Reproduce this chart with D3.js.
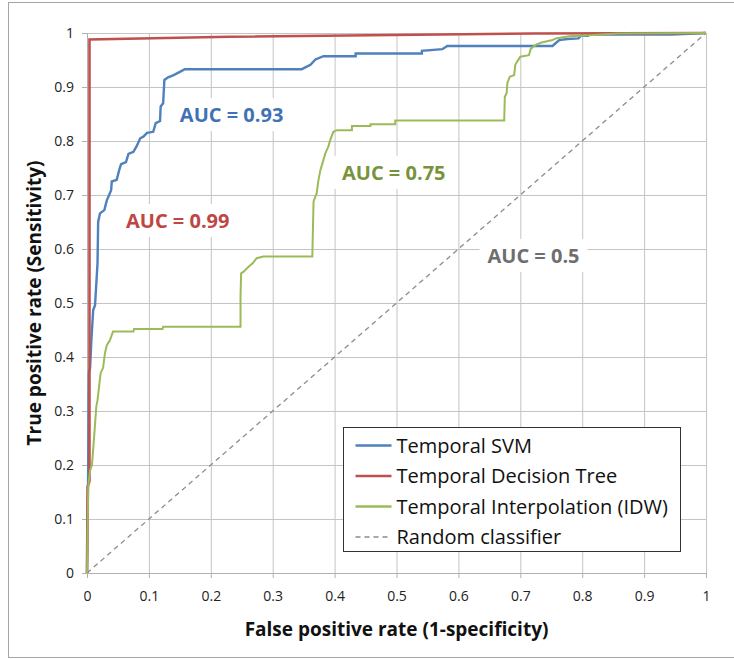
<!DOCTYPE html>
<html>
<head>
<meta charset="utf-8">
<script src="https://cdn.jsdelivr.net/npm/d3@7"></script>
<style>
  body { margin: 0; background: #fff; }
  text { font-family: "Open Sans", sans-serif; }
</style>
</head>
<body>
<div id="chart"></div>
<script>
// ROC points, [false positive rate, true positive rate]
var svmPoints = [
    [0, 0], [0.002, 0.2], [0.003, 0.37], [0.005, 0.38], [0.007, 0.43], [0.010, 0.487],
    [0.013, 0.496], [0.017, 0.574], [0.018, 0.65], [0.021, 0.666], [0.028, 0.672],
    [0.032, 0.69], [0.039, 0.709], [0.040, 0.725], [0.048, 0.728], [0.052, 0.746],
    [0.055, 0.757], [0.063, 0.761], [0.067, 0.776], [0.075, 0.78], [0.080, 0.79],
    [0.086, 0.805], [0.091, 0.808], [0.097, 0.815], [0.107, 0.817], [0.111, 0.833],
    [0.118, 0.837], [0.119, 0.864], [0.123, 0.87], [0.125, 0.913], [0.131, 0.918],
    [0.140, 0.922], [0.150, 0.928], [0.158, 0.933], [0.347, 0.933], [0.361, 0.941],
    [0.369, 0.951], [0.382, 0.957], [0.434, 0.957], [0.434, 0.962], [0.541, 0.962],
    [0.541, 0.967], [0.574, 0.970], [0.582, 0.976], [0.752, 0.976], [0.757, 0.981],
    [0.763, 0.987], [0.776, 0.989], [0.794, 0.990], [0.798, 0.995], [0.809, 0.995],
    [0.809, 0.997], [0.944, 0.997], [1, 1]
];
var treePoints = [
    [0, 0], [0.001, 0.16], [0.004, 0.17], [0.004, 0.988], [0.23, 0.993], [0.72, 0.999], [1, 1]
];
var idwPoints = [
    [0, 0], [0.002, 0.16], [0.005, 0.19], [0.008, 0.2], [0.012, 0.26], [0.015, 0.308],
    [0.017, 0.32], [0.022, 0.37], [0.026, 0.38], [0.029, 0.407], [0.032, 0.422],
    [0.037, 0.431], [0.042, 0.447], [0.075, 0.447], [0.076, 0.452], [0.122, 0.452],
    [0.123, 0.456], [0.248, 0.456], [0.248, 0.512], [0.249, 0.555], [0.253, 0.558],
    [0.261, 0.567], [0.268, 0.574], [0.274, 0.583], [0.285, 0.586], [0.364, 0.586],
    [0.366, 0.688], [0.371, 0.703], [0.374, 0.728], [0.377, 0.746], [0.382, 0.765],
    [0.385, 0.777], [0.390, 0.79], [0.393, 0.802], [0.398, 0.817], [0.404, 0.82],
    [0.428, 0.82], [0.428, 0.828], [0.458, 0.828], [0.458, 0.831], [0.498, 0.831],
    [0.498, 0.838], [0.674, 0.838], [0.675, 0.882], [0.678, 0.889], [0.679, 0.907],
    [0.683, 0.919], [0.690, 0.922], [0.692, 0.941], [0.695, 0.947], [0.700, 0.956],
    [0.714, 0.959], [0.717, 0.971], [0.725, 0.978], [0.733, 0.982], [0.752, 0.987],
    [0.757, 0.990], [0.779, 0.994], [0.798, 0.995], [0.857, 0.999], [1, 1]
];
var randomPoints = [[0, 0], [1, 1]];

var tickValues = [0, 0.1, 0.2, 0.3, 0.4, 0.5, 0.6, 0.7, 0.8, 0.9, 1];
var tickLabels = ["0", "0.1", "0.2", "0.3", "0.4", "0.5", "0.6", "0.7", "0.8", "0.9", "1"];

var seriesNames = ["Temporal SVM", "Temporal Decision Tree", "Temporal Interpolation (IDW)", "Random classifier"];
var aucLabels = ["AUC = 0.93", "AUC = 0.99", "AUC = 0.75", "AUC = 0.5"];
// where each AUC label sits, in data units (left edge, baseline)
var aucX = [0.15, 0.063, 0.412, 0.647];
var aucY = [0.835, 0.639, 0.728, 0.574];

var lineColors = ["#4f81bd", "#c0504d", "#9bbb59", "#8c8c8c"];
var labelColors = ["#3f72b4", "#be4643", "#77933c", "#6e6e6e"];

var margin = { top: 33, right: 28, bottom: 86, left: 87 };
var width = 734, height = 659;
var plotW = width - margin.left - margin.right;   // 619
var plotH = height - margin.top - margin.bottom;  // 540

var svg = d3.select("#chart").append("svg")
    .attr("width", width)
    .attr("height", height);

// outer frame (right side runs off the picture)
svg.append("rect")
    .attr("x", 8.5).attr("y", 2.5)
    .attr("width", 740).attr("height", 655)
    .attr("fill", "none")
    .attr("stroke", "#a6a6a6")
    .attr("stroke-width", 1);

var g = svg.append("g")
    .attr("transform", `translate(${margin.left}, ${margin.top})`);

var xScale = d3.scaleLinear().domain([0, 1]).range([0, plotW]);
var yScale = d3.scaleLinear().domain([0, 1]).range([plotH, 0]);

// gridlines
var xGrid = d3.axisBottom(xScale).tickValues(tickValues).tickSize(-plotH).tickFormat("");
var yGrid = d3.axisLeft(yScale).tickValues(tickValues).tickSize(-plotW).tickFormat("");
g.append("g").attr("class", "grid")
    .attr("transform", `translate(0, ${plotH})`)
    .call(xGrid);
g.append("g").attr("class", "grid").call(yGrid);
g.selectAll(".grid .domain").remove();
g.selectAll(".grid line").attr("stroke", "#c4c4c4").attr("stroke-width", 1);

// axes with short outer ticks
var xAxis = d3.axisBottom(xScale).tickValues(tickValues).tickSize(5).tickSizeOuter(0)
    .tickPadding(13).tickFormat((d, i) => tickLabels[i]);
var yAxis = d3.axisLeft(yScale).tickValues(tickValues).tickSize(5).tickSizeOuter(0)
    .tickPadding(8).tickFormat((d, i) => tickLabels[i]);

var xAxisG = g.append("g")
    .attr("transform", `translate(0, ${plotH})`)
    .call(xAxis);
var yAxisG = g.append("g").call(yAxis);

[xAxisG, yAxisG].forEach(function (ax) {
    ax.select(".domain").attr("stroke", "#b0b0b0");
    ax.selectAll(".tick line").attr("stroke", "#b0b0b0");
    ax.selectAll(".tick text")
        .attr("fill", "#222")
        .style("font-family", "'Open Sans', sans-serif")
        .style("font-size", "14px");
});

// AUC labels with white boxes behind them
aucLabels.forEach(function (label, i) {
    var lg = g.append("g");
    var box = lg.append("rect").attr("fill", "#fff");
    var t = lg.append("text")
        .attr("x", xScale(aucX[i]))
        .attr("y", yScale(aucY[i]))
        .attr("fill", labelColors[i])
        .style("font-size", "20px")
        .style("font-weight", "bold")
        .text(label);
    var bb = t.node().getBBox();
    box.attr("x", bb.x - 8).attr("y", bb.y - 3)
        .attr("width", bb.width + 16).attr("height", bb.height + 6);
});

var line = d3.line()
    .x(d => xScale(d[0]))
    .y(d => yScale(d[1]));

// random classifier
g.append("path")
    .datum(randomPoints)
    .attr("d", line)
    .attr("fill", "none")
    .attr("stroke", lineColors[3])
    .attr("stroke-width", 1.3)
    .attr("stroke-dasharray", "5,4");

var curves = [svmPoints, treePoints, idwPoints];
var widths = [2.4, 2.6, 2];
curves.forEach(function (pts, i) {
    g.append("path")
        .datum(pts)
        .attr("d", line)
        .attr("fill", "none")
        .attr("stroke", lineColors[i])
        .attr("stroke-width", widths[i])
        .attr("stroke-linejoin", "miter");
});

// axis titles
g.append("text")
    .attr("text-anchor", "middle")
    .attr("x", plotW / 2)
    .attr("y", plotH + 63)
    .attr("fill", "#111")
    .style("font-size", "19px")
    .style("font-weight", "bold")
    .text("False positive rate (1-specificity)");

svg.append("text")
    .attr("text-anchor", "middle")
    .attr("transform", `translate(41, ${margin.top + plotH / 2}) rotate(-90)`)
    .attr("fill", "#111")
    .style("font-size", "19px")
    .style("font-weight", "bold")
    .text("True positive rate (Sensitivity)");

// legend
var legend = svg.append("g").attr("transform", "translate(343.5, 427.5)");
legend.append("rect")
    .attr("width", 337).attr("height", 124)
    .attr("fill", "#fff")
    .attr("stroke", "#333")
    .attr("stroke-width", 1);

seriesNames.forEach(function (name, i) {
    var rowY = 18 + i * 30.5;
    legend.append("line")
        .attr("x1", 12).attr("x2", 48)
        .attr("y1", rowY).attr("y2", rowY)
        .attr("stroke", lineColors[i])
        .attr("stroke-width", i === 3 ? 1.3 : 2.4)
        .attr("stroke-dasharray", i === 3 ? "5,4" : null);
    legend.append("text")
        .attr("x", 53)
        .attr("y", rowY + 7)
        .attr("fill", "#111")
        .style("font-size", "20px")
        .text(name);
});
</script>
</body>
</html>
